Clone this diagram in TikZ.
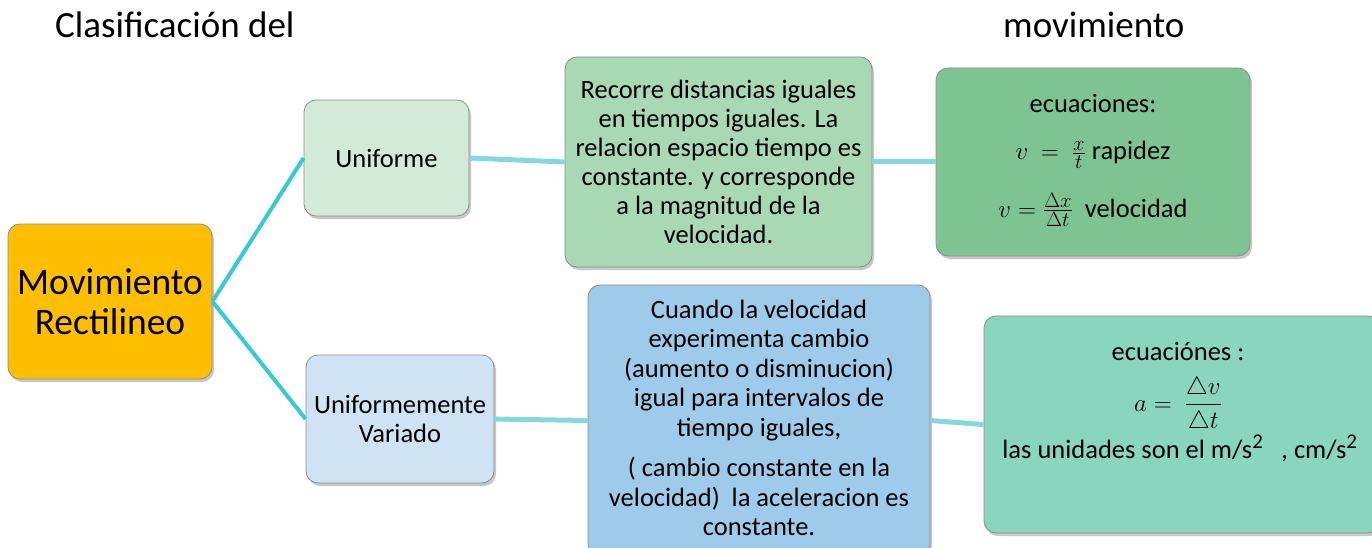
\documentclass[tikz,border=0pt]{standalone}
\usepackage{amsmath}
\usepackage{fontspec}
\setmainfont{Carlito}
\usetikzlibrary{shadows}
\DeclareMathSizes{26.5}{28}{21}{16}
\definecolor{orangeF}{HTML}{FFBF00}
\definecolor{unF}{HTML}{D4EAD9}
\definecolor{recF}{HTML}{A9D8B5}
\definecolor{eqaF}{HTML}{7EC493}
\definecolor{uvF}{HTML}{CFE3F4}
\definecolor{cuF}{HTML}{9FCBEA}
\definecolor{eqbF}{HTML}{8AD5BE}
\definecolor{cyanA}{HTML}{38C9D2}
\definecolor{cyanB}{HTML}{86D8E0}
\tikzset{
  box/.style={rounded corners=12pt, draw=black!45, line width=0.8pt, align=center,
    inner sep=0pt, font=\fontsize{26.5}{29.5}\selectfont,
    drop shadow={shadow xshift=2pt, shadow yshift=-3pt, opacity=0.3, fill=black!70}},
  mainlink/.style={line width=4pt, draw=cyanA},
  sublink/.style={line width=5pt, draw=cyanB},
  txt/.style={anchor=base, inner sep=0pt, font=\fontsize{26.5}{30}\selectfont},
  ttl/.style={anchor=base west, inner sep=0pt, font=\fontsize{37}{40}\selectfont}
}
\begin{document}
\begin{tikzpicture}[x=1pt,y=-1pt]
\useasboundingbox[fill=white] (0,0) rectangle (1372,548);
% titles
\node[ttl] (t1) at (55,38) {Clasificación del};
\node[ttl] (t2) at (1003,38) {movimiento};
% boxes
\node[box, fill=orangeF, minimum width=204pt, minimum height=155pt,
  font=\fontsize{37.5}{40}\selectfont] (mr) at (110,301.5) {Movimiento\\Rectilineo};
\node[box, fill=unF, minimum width=165pt, minimum height=116pt] (un) at (386.5,158) {Uniforme};
\node[box, fill=recF, minimum width=307pt, minimum height=210pt] (rec) at (718.5,162) {};
\node[txt, anchor=center, align=center, font=\fontsize{26.5}{29}\selectfont] (rect) at (718.5,162)
  {Recorre distancias iguales\\en tiempos iguales. La\\relacion espacio tiempo es\\constante. y corresponde\\a la magnitud de la\\velocidad.};
\node[box, fill=eqaF, minimum width=314pt, minimum height=188pt] (eqa) at (1093,162) {};
\node[box, fill=uvF, minimum width=188pt, minimum height=128pt] (uv) at (400,419) {Uniformemente\\Variado};
\node[box, fill=cuF, minimum width=342pt, minimum height=271pt] (cu) at (759,420.5) {};
\node[txt, anchor=center, align=center, font=\fontsize{26.5}{29.5}\selectfont] (cut) at (759,418)
  {Cuando la velocidad\\experimenta cambio\\(aumento o disminucion)\\igual para intervalos de\\tiempo iguales,\\[11pt]
   ( cambio constante en la\\velocidad)\ \ la aceleracion es\\constante.};
\node[box, fill=eqbF, minimum width=396pt, minimum height=217pt] (eqb) at (1182,424.5) {};
% equation texts
\node[txt] (ea1) at (1093,113) {ecuaciones:};
\node[txt] (ea2) at (1093,160) {$v\ =\ \frac{x}{t}$\ rapidez};
\node[txt] (ea3) at (1093,217) {$v=\frac{\Delta x}{\Delta t}$\ \ velocidad};
\node[txt] (eb1) at (1178,360) {ecuaciónes :};
\node[txt] (eb2) at (1178,411) {$a =\ \dfrac{\triangle v}{\triangle t}$};
\node[txt] (eb3) at (1180,458) {las unidades son el m/s\textsuperscript{2}\ \ \ , cm/s\textsuperscript{2}};
% connectors
\draw[mainlink] (mr.east) -- (un.west);
\draw[mainlink] (mr.east) -- (uv.west);
\draw[sublink] (un.east) -- (rec.west);
\draw[sublink] (rec.east) -- (eqa.west);
\draw[sublink] (uv.east) -- (cu.west);
\draw[sublink] (cu.east) -- (eqb.west);
\end{tikzpicture}
\end{document}
